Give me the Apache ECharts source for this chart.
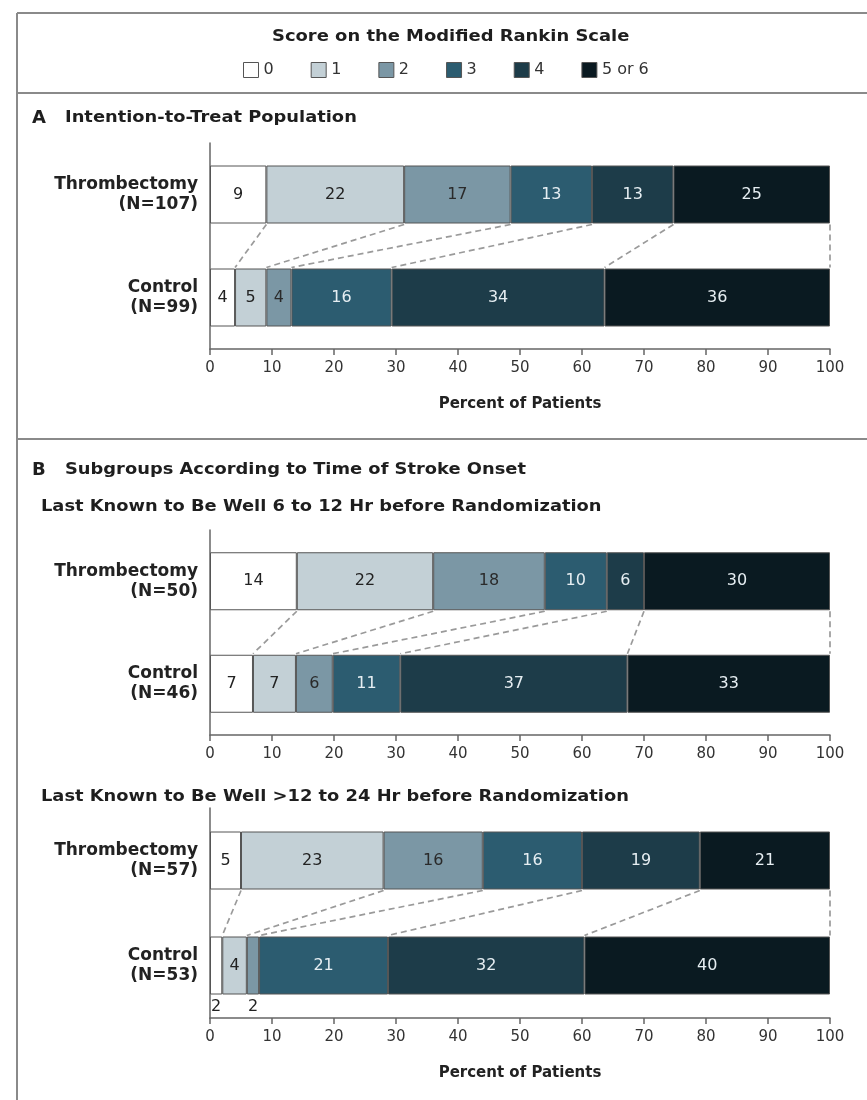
<!DOCTYPE html>
<html>
<head>
<meta charset="utf-8">
<script src="https://cdn.jsdelivr.net/npm/echarts@6/dist/echarts.min.js"></script>
<style>
  html, body { margin: 0; background: #fff; }
  #chart { width: 867px; height: 1100px; }
</style>
</head>
<body>
<div id="chart"></div>
<script>
// mRS score categories and colours
const scores = ["0", "1", "2", "3", "4", "5 or 6"];
const scoreColors = ["#ffffff", "#c3d0d6", "#7b97a5", "#2c5c70", "#1d3c49", "#0a1a21"];
const labelColors = ["#222", "#222", "#2a2a2a", "#e6eef2", "#e6eef2", "#e6eef2"];

// panel A: intention-to-treat
const ittRows = ["Thrombectomy\n(N=107)", "Control\n(N=99)"];
const ittThrombectomy = [9, 22, 17, 13, 13, 25];
const ittControl = [4, 5, 4, 16, 34, 36];

// panel B: 6 to 12 hr
const earlyRows = ["Thrombectomy\n(N=50)", "Control\n(N=46)"];
const earlyThrombectomy = [14, 22, 18, 10, 6, 30];
const earlyControl = [7, 7, 6, 11, 37, 33];

// panel B: >12 to 24 hr
const lateRows = ["Thrombectomy\n(N=57)", "Control\n(N=53)"];
const lateThrombectomy = [5, 23, 16, 16, 19, 21];
const lateControl = [2, 4, 2, 21, 32, 40];

const FONT = "DejaVu Sans";
const BAR = 58;

const panels = [
  { rows: ittRows, top: ittThrombectomy, bottom: ittControl, gridTop: 143, gridH: 206, axisName: "Percent of Patients" },
  { rows: earlyRows, top: earlyThrombectomy, bottom: earlyControl, gridTop: 530, gridH: 205, axisName: "" },
  { rows: lateRows, top: lateThrombectomy, bottom: lateControl, gridTop: 808, gridH: 210, axisName: "Percent of Patients" }
];

function toPercent(arr) {
  const s = arr.reduce((a, b) => a + b, 0);
  return arr.map(v => v / s * 100);
}
function cumulative(arr) {
  let c = 0;
  return arr.map(v => (c += v));
}

const grids = [], xAxes = [], yAxes = [], series = [];

panels.forEach((p, gi) => {
  grids.push({ left: 210, width: 620, top: p.gridTop, height: p.gridH });
  xAxes.push({
    gridIndex: gi, type: "value", min: 0, max: 100, interval: 10,
    axisLine: { show: true, lineStyle: { color: "#666", width: 1.5 } },
    axisTick: { show: true, length: 6, lineStyle: { color: "#666", width: 1.5 } },
    splitLine: { show: false },
    axisLabel: { fontFamily: FONT, fontSize: 15, color: "#333", margin: 12 },
    name: p.axisName, nameLocation: "middle", nameGap: 48,
    nameTextStyle: { fontFamily: FONT, fontSize: 15, fontWeight: "bold", color: "#222" }
  });
  yAxes.push({
    gridIndex: gi, type: "category", inverse: true, data: p.rows,
    axisLine: { show: true, lineStyle: { color: "#666", width: 1.5 } },
    axisTick: { show: false },
    axisLabel: { fontFamily: FONT, fontSize: 17, fontWeight: "bold", color: "#222", margin: 12, lineHeight: 20, align: "right" }
  });

  const topPct = toPercent(p.top);
  const botPct = toPercent(p.bottom);

  scores.forEach((s, k) => {
    const raw = [p.top[k], p.bottom[k]];
    const pct = [topPct[k], botPct[k]];
    series.push({
      name: s, type: "bar", stack: "panel" + gi, xAxisIndex: gi, yAxisIndex: gi,
      barWidth: BAR,
      itemStyle: { color: scoreColors[k], borderColor: "#555", borderWidth: 1 },
      label: {
        show: true, position: "inside", fontFamily: FONT, fontSize: 16, color: labelColors[k],
        formatter: (q) => String(raw[q.dataIndex])
      },
      data: pct.map((v, i) => raw[i] < 3
        ? { value: v, label: { position: "bottom", distance: 4, color: "#222" } }
        : v),
      emphasis: { disabled: true }
    });
  });

  // dashed connectors between matching boundaries of the two bars
  const cTop = cumulative(topPct);
  const cBot = cumulative(botPct);
  series.push({
    type: "custom", xAxisIndex: gi, yAxisIndex: gi, silent: true, z: 1,
    encode: { x: [0, 1] },
    data: cTop.map((v, i) => [v, cBot[i]]),
    renderItem: (params, api) => {
      const a = api.coord([api.value(0), 0]);
      const b = api.coord([api.value(1), 1]);
      return {
        type: "line",
        shape: { x1: a[0], y1: a[1] + BAR / 2 + 1, x2: b[0], y2: b[1] - BAR / 2 - 1 },
        style: { stroke: "#9a9a9a", lineWidth: 1.7, lineDash: [6, 4] }
      };
    }
  });
});

const frame = { stroke: "#8a8a8a", lineWidth: 2 };
function heading(text, x, y, size, sx) {
  return {
    type: "text", x: x, y: y, scaleX: sx,
    style: { text: text, font: "bold " + size + "px " + FONT, fill: "#1e1e1e", verticalAlign: "middle", align: "left" }
  };
}
const graphic = [
  { type: "line", shape: { x1: 17, y1: 13, x2: 867, y2: 13 }, style: frame },
  { type: "line", shape: { x1: 17, y1: 93, x2: 867, y2: 93 }, style: frame },
  { type: "line", shape: { x1: 17, y1: 439, x2: 867, y2: 439 }, style: frame },
  { type: "line", shape: { x1: 17, y1: 13, x2: 17, y2: 1100 }, style: frame },
  heading("Score on the Modified Rankin Scale", 272, 37, 16, 1.12),
  heading("A", 32, 118, 18, 1),
  heading("Intention-to-Treat Population", 65, 118, 15, 1.19),
  heading("B", 32, 470, 18, 1),
  heading("Subgroups According to Time of Stroke Onset", 65, 470, 15, 1.19),
  heading("Last Known to Be Well 6 to 12 Hr before Randomization", 41, 507, 15, 1.19),
  heading("Last Known to Be Well >12 to 24 Hr before Randomization", 41, 797, 15, 1.19)
];

const chart = echarts.init(document.getElementById("chart"));
chart.setOption({
  backgroundColor: "#fff",
  animation: false,
  legend: {
    data: scores, left: 238, top: 57, itemWidth: 15, itemHeight: 15, itemGap: 37,
    icon: "rect",
    itemStyle: { borderColor: "#555", borderWidth: 1 },
    textStyle: { fontFamily: FONT, fontSize: 16, color: "#333" },
    selectedMode: false
  },
  grid: grids,
  xAxis: xAxes,
  yAxis: yAxes,
  series: series,
  graphic: graphic
});
</script>
</body>
</html>
